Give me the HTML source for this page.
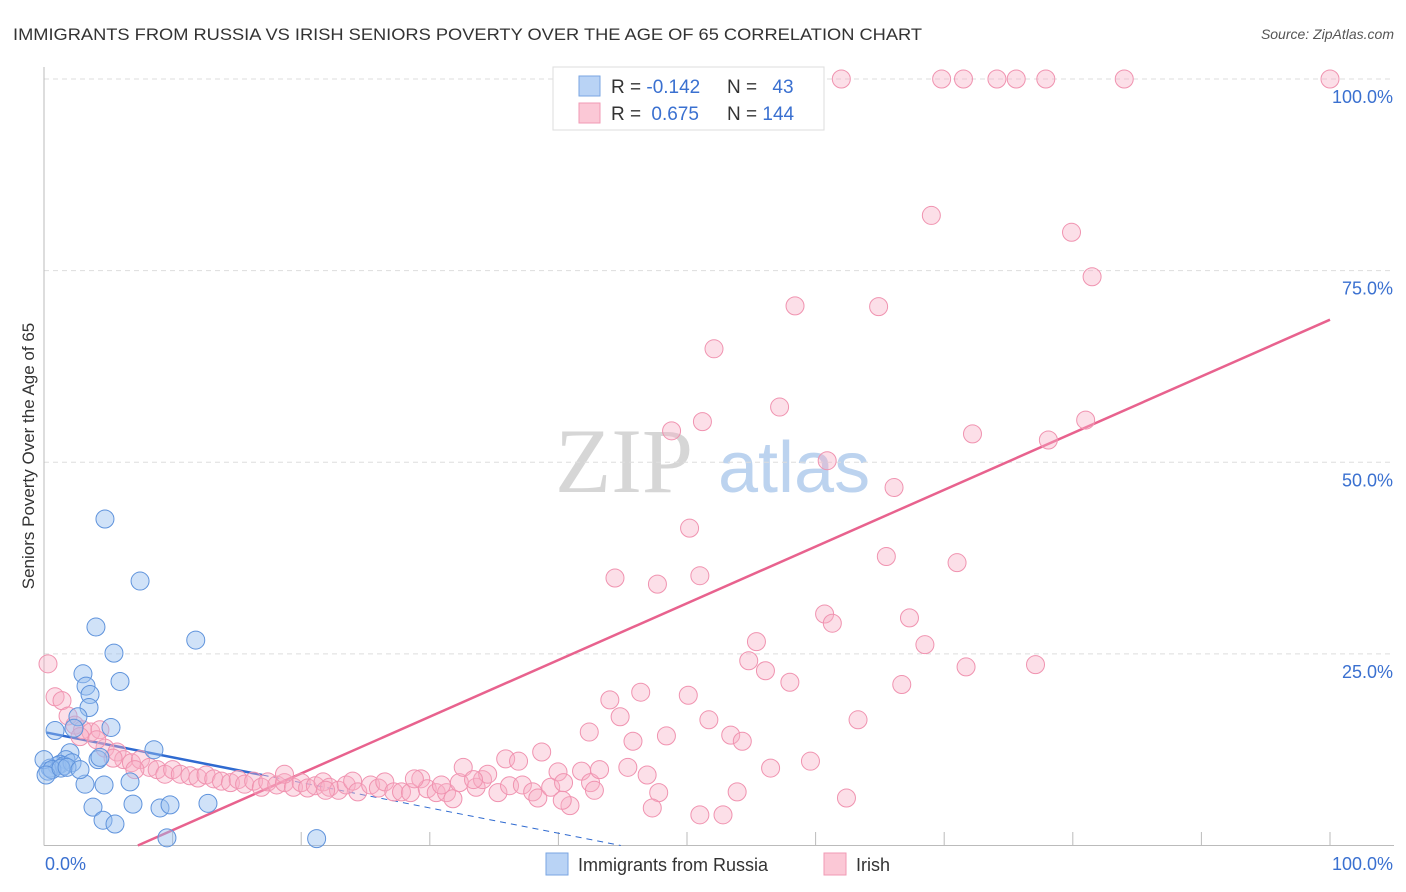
<!DOCTYPE html>
<html><head><meta charset="utf-8"><style>
html,body{margin:0;padding:0;background:#fff;}
svg{display:block;font-family:"Liberation Sans",sans-serif;}
</style></head><body>
<svg id="chart" width="1406" height="892" viewBox="0 0 1406 892">
<text x="13" y="40" font-size="17" fill="#333" textLength="909" lengthAdjust="spacingAndGlyphs">IMMIGRANTS FROM RUSSIA VS IRISH SENIORS POVERTY OVER THE AGE OF 65 CORRELATION CHART</text>
<text x="1394" y="39" font-size="14" fill="#555" font-style="italic" text-anchor="end">Source: ZipAtlas.com</text>
<g>
<text x="555" y="492" font-size="92" font-family="Liberation Serif,serif" fill="#d6d6d6">ZIP</text>
<text x="718" y="492" font-size="72" fill="#bcd3ef">atlas</text>
</g>
<g id="grid"></g>
<g id="axes"></g>
<g id="trends"></g>
<g id="pts"></g>
<text x="34" y="456" font-size="17" fill="#333" text-anchor="middle" transform="rotate(-90 34 456)">Seniors Poverty Over the Age of 65</text>
<g>
<rect x="553" y="67" width="271" height="63" fill="#fff" stroke="#ddd"/>
<rect x="579" y="76" width="21" height="20" fill="#b9d3f5" stroke="#7aa6e2"/>
<rect x="579" y="103" width="21" height="20" fill="#fbc8d6" stroke="#f09ab4"/>
<text x="611" y="93" font-size="19" fill="#333">R = <tspan fill="#3a70d0">-0.142</tspan></text>
<text x="727" y="93" font-size="19" fill="#333">N = <tspan fill="#3a70d0" dx="10">43</tspan></text>
<text x="611" y="120" font-size="19" fill="#333">R = <tspan fill="#3a70d0" dx="5">0.675</tspan></text>
<text x="727" y="120" font-size="19" fill="#333">N = <tspan fill="#3a70d0">144</tspan></text>
</g>
<g>
<rect x="546" y="853" width="22" height="22" fill="#b9d3f5" stroke="#7aa6e2"/>
<text x="578" y="871" font-size="18" fill="#333">Immigrants from Russia</text>
<rect x="824" y="853" width="22" height="22" fill="#fbc8d6" stroke="#f09ab4"/>
<text x="856" y="871" font-size="18" fill="#333">Irish</text>
</g>
</svg>
<script>
const russiaX=[4.74,7.47,4.04,11.8,5.44,5.91,3.03,3.27,3.58,3.5,2.64,5.21,0.86,2.33,8.55,2.02,4.2,4.35,1.71,1.24,1.01,0.47,0.31,1.56,2.18,0,0.62,3.19,6.69,4.67,3.81,6.92,9.02,9.8,12.75,4.59,5.52,9.56,21.2,0.16,1.32,1.79,2.8];
const russiaY=[42.6,34.5,28.5,26.8,25.1,21.4,22.4,20.8,19.7,18.0,16.8,15.4,15.0,15.3,12.5,12.1,11.2,11.5,11.2,10.6,10.4,10.1,9.7,10.4,10.8,11.2,9.9,8.0,8.3,7.9,5.0,5.4,4.9,5.3,5.5,3.3,2.8,1.0,0.9,9.2,10.1,10.2,9.9];
const irishX=[62.0,69.8,71.5,74.1,75.6,77.9,84.0,100,69.0,79.9,81.5,58.4,64.9,52.1,57.2,51.2,48.8,81.0,72.2,78.1,60.9,66.1,50.2,65.5,71.0,44.4,47.7,51.0,60.7,61.3,67.3,55.4,68.5,54.8,56.1,71.7,77.1,0.31,58.0,66.7,46.4,50.1,44.0,0.86,1.4,51.7,63.3,44.8,42.4,45.8,48.4,53.4,54.3,1.87,2.4,3.0,3.65,4.35,2.8,4.74,5.68,6.2,6.8,7.5,8.2,8.8,9.4,10.0,10.6,11.35,11.97,12.6,13.2,13.8,14.5,15.1,15.6,16.3,16.9,17.4,18.1,18.7,19.4,20.0,20.5,21.1,21.7,22.2,22.9,23.5,24.0,24.4,25.4,26.0,26.5,27.2,27.8,28.5,29.3,29.8,30.5,31.3,31.8,30.9,32.3,32.6,33.6,34.1,34.5,35.3,35.9,36.2,36.9,37.2,38.0,38.4,38.7,39.4,39.97,40.4,40.9,41.8,42.5,43.2,45.4,46.9,47.8,51.0,52.8,53.9,56.5,59.6,62.4,47.3,42.8,40.3,33.4,28.8,18.7,21.9,7.07,5.37,4.1];
const irishY=[100,100,100,100,100,100,100,100,82.2,80.0,74.2,70.4,70.3,64.8,57.2,55.3,54.1,55.5,53.7,52.9,50.2,46.7,41.4,37.7,36.9,34.9,34.1,35.2,30.2,29.0,29.7,26.6,26.2,24.1,22.8,23.3,23.6,23.7,21.3,21.0,20.0,19.6,19.0,19.4,18.9,16.4,16.4,16.8,14.8,13.6,14.3,14.4,13.6,16.9,15.7,15.1,14.8,15.1,14.2,12.7,12.2,11.2,10.8,11.2,10.2,9.9,9.3,9.9,9.3,9.1,8.8,9.2,8.7,8.4,8.2,8.6,8.0,8.4,7.6,8.3,7.9,8.2,7.6,8.2,7.5,7.8,8.3,7.6,7.2,7.9,8.4,7.0,7.9,7.5,8.3,7.0,7.0,6.9,8.7,7.4,6.9,6.9,6.1,7.9,8.2,10.2,7.6,8.6,9.3,6.9,11.3,7.8,11.0,7.9,7.0,6.2,12.2,7.6,9.6,8.2,5.2,9.7,8.2,9.9,10.2,9.2,6.9,4.0,4.0,7.0,10.1,11.0,6.2,4.9,7.2,5.9,8.6,8.7,9.3,7.2,9.9,11.4,13.8];
const yTicks=[25,50,75,100];
const yTickLabels=["25.0%","50.0%","75.0%","100.0%"];
const xTicks=[10,20,30,40,50,60,70,80,90,100];
const russiaTrend=[14.8,-0.33];
const irishTrend=[-5.4,0.74];

const NS="http://www.w3.org/2000/svg";
const X=v=>44+v*12.86, Y=v=>845.5-v*7.665;
function mk(tag,attrs,parent){const e=document.createElementNS(NS,tag);for(const k in attrs)e.setAttribute(k,attrs[k]);parent.appendChild(e);return e;}
const grid=document.getElementById('grid'),axes=document.getElementById('axes'),tr=document.getElementById('trends'),pts=document.getElementById('pts');
yTicks.forEach((t,i)=>{
 const l=mk('line',{x1:44,x2:1394,y1:Y(t),y2:Y(t),stroke:'#ddd','stroke-dasharray':'5,4'},grid);
 
 
 const tx=mk('text',{x:1393,y:Y(t)+24,'font-size':18,fill:'#3a70d0','text-anchor':'end'},axes);
 tx.textContent=yTickLabels[i];
 
 
});
const ax=mk('line',{x1:44,x2:1394,y1:845.5,y2:845.5,stroke:'#bbb'},axes);


const ay=mk('line',{x1:44,x2:44,y1:67,y2:845.5,stroke:'#bbb'},axes);


xTicks.forEach(t=>{
 const l=mk('line',{x1:X(t),x2:X(t),y1:832,y2:845.5,stroke:'#bbb'},axes);
 
 
});
const x0=mk('text',{x:45,y:870,'font-size':18,fill:'#3a70d0'},axes);x0.textContent='0.0%';


const x1=mk('text',{x:1393,y:870,'font-size':18,fill:'#3a70d0','text-anchor':'end'},axes);x1.textContent='100.0%';



irishX.forEach((v,i)=>{
 const c=mk('circle',{cx:X(v),cy:Y(irishY[i]),r:9,fill:'rgba(248,176,198,0.4)',stroke:'#f093b0','stroke-width':1},pts);
 
 
});
russiaX.forEach((v,i)=>{
 const c=mk('circle',{cx:X(v),cy:Y(russiaY[i]),r:9,fill:'rgba(150,190,240,0.45)',stroke:'#5f93dc','stroke-width':1},pts);
 
 
});
// trends
const bz=-russiaTrend[0]/russiaTrend[1];
const bs=mk('line',{x1:X(0.2),y1:Y(russiaTrend[0]+russiaTrend[1]*0.2),x2:X(17),y2:Y(russiaTrend[0]+russiaTrend[1]*17),stroke:'#2f6ad0','stroke-width':2.5},tr);


const bd=mk('line',{x1:X(17),y1:Y(russiaTrend[0]+russiaTrend[1]*17),x2:X(bz),y2:Y(0),stroke:'#2f6ad0','stroke-width':1,'stroke-dasharray':'6,5'},tr);


const pz=-irishTrend[0]/irishTrend[1];
const pl=mk('line',{x1:X(pz),y1:Y(0),x2:X(100),y2:Y(irishTrend[0]+irishTrend[1]*100),stroke:'#e8628e','stroke-width':2.5},tr);


</script>
</body></html>
